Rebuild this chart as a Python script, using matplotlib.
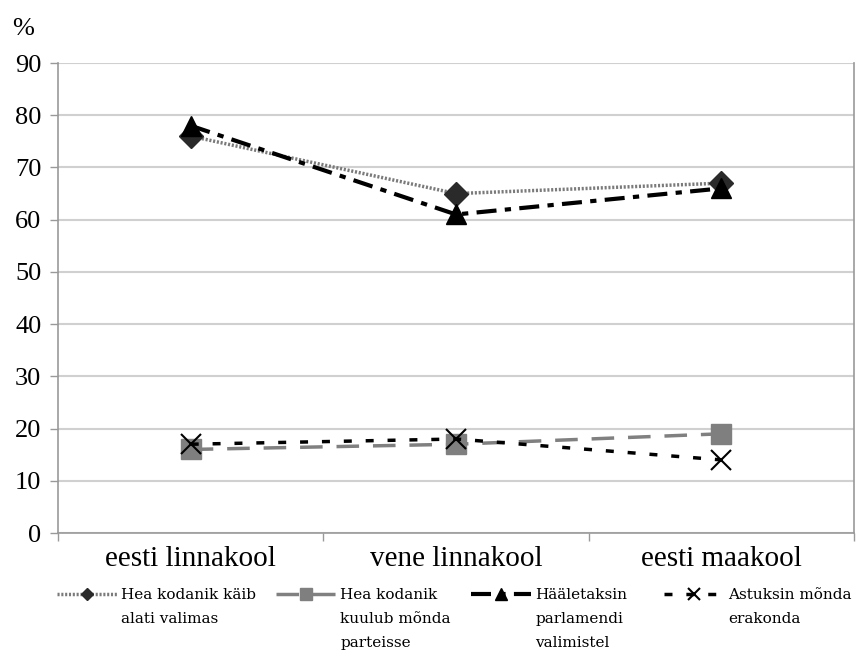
import numpy as np
import matplotlib
matplotlib.use("Agg")
import matplotlib.pyplot as plt

plt.rcParams["font.family"] = ["Liberation Serif", "DejaVu Serif"]

categories = ["eesti linnakool", "vene linnakool", "eesti maakool"]
labels = [
    ["Hea kodanik käib", "alati valimas"],
    ["Hea kodanik", "kuulub mõnda", "parteisse"],
    ["Hääletaksin", "parlamendi", "valimistel"],
    ["Astuksin mõnda", "erakonda"],
]
käib_valimas = [76, 65, 67]
kuulub_parteisse = [16, 17, 19]
hääletaksin = [78, 61, 66]
astuksin_erakonda = [17, 18, 14]

series = [käib_valimas, kuulub_parteisse, hääletaksin, astuksin_erakonda]
styles = [
    dict(color="#7a7a7a", lw=2.5, ls=(0, (0.6, 0.5)), marker="D", ms=12,
         mfc="#2a2a2a", mec="#2a2a2a"),
    dict(color="#808080", lw=2.5, ls=(0, (6.5, 4)), marker="s", ms=14,
         mfc="#7f7f7f", mec="#7f7f7f"),
    dict(color="black", lw=3, ls=(0, (4.8, 2, 1.5, 2)), marker="^", ms=14,
         mfc="black", mec="black"),
    dict(color="black", lw=2.5, ls=(0, (2.3, 4)), marker="x", ms=14,
         mew=1.5, mfc="black", mec="black"),
]
legend_ms = [6, 8, 8, 8]

W, H = 856, 650
fig = plt.figure(figsize=(W / 100, H / 100), dpi=100)
ax = fig.add_axes([0.0678, 0.18, 0.93, 0.723])

x = np.arange(len(categories))
lines = {}
for idx in [1, 3, 0, 2]:
    (ln,) = ax.plot(x, series[idx], clip_on=False, **styles[idx])
    lines[idx] = ln

ax.set_xlim(-0.5, len(categories) - 0.5)
ax.set_ylim(0, 90)
ax.set_yticks(np.arange(0, 91, 10))
ax.set_xticks(x)
ax.set_xticklabels(categories, fontsize=21)
ax.set_xticks(np.arange(-0.5, len(categories), 1), minor=True)
ax.tick_params(axis="x", which="major", length=0, pad=9)
ax.tick_params(axis="x", which="minor", length=6, color="#999999", width=1)
ax.tick_params(axis="y", length=6, color="#999999", width=1, labelsize=19, pad=6)
ax.grid(axis="y", color="#d0d0d0", lw=1.5)
ax.set_axisbelow(True)
for side in ["left", "bottom", "right"]:
    ax.spines[side].set_color("#999999")
    ax.spines[side].set_linewidth(1.2)
ax.spines["top"].set_visible(False)

fig.text(0.014, 0.955, "%", fontsize=19, ha="left", va="center")

# legend: one entry per column, handle beside the first line of each label
col_x = [57, 276, 471, 664]
line_step = 24  # px between label lines
leg_font = dict(family=["DejaVu Serif"], size=11)
legs = []
for i, lab in enumerate(labels):
    leg = fig.legend([lines[i]], [lab[0]], loc="center left",
                     bbox_to_anchor=(col_x[i] / W, 1 - 595 / H),
                     frameon=False, prop=leg_font, handlelength=3.9,
                     handletextpad=0.3, borderpad=0, borderaxespad=0)
    leg.legend_handles[0].set_markersize(legend_ms[i])
    legs.append(leg)

fig.canvas.draw()
renderer = fig.canvas.get_renderer()
for leg, lab in zip(legs, labels):
    t = leg.get_texts()[0]
    bb = t.get_window_extent(renderer)
    cy = (bb.y0 + bb.y1) / 2
    for k, extra in enumerate(lab[1:], start=1):
        fig.text(bb.x0 / W, (cy - k * line_step) / H, extra,
                 ha="left", va="center", fontproperties=t.get_fontproperties())

fig.savefig("out.png", dpi=100)
